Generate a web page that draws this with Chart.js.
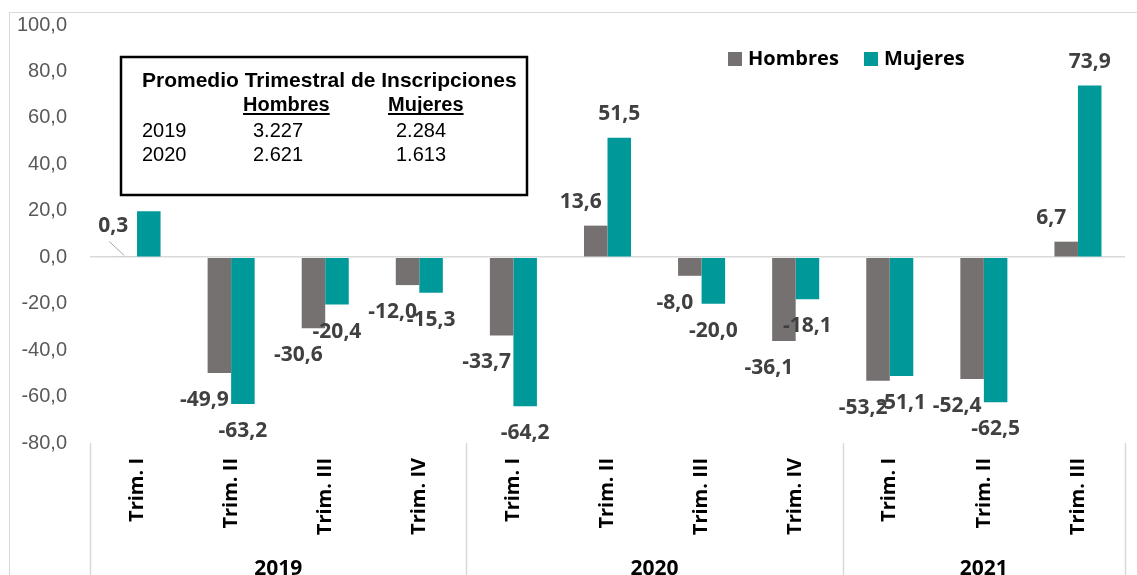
<!DOCTYPE html>
<html>
<head>
<meta charset="utf-8">
<script src="https://cdn.jsdelivr.net/npm/chart.js@4.4.0/dist/chart.umd.min.js"></script>
<style>
  html, body { margin: 0; padding: 0; background: #fff; }
  #wrap { width: 1137px; height: 575px; }
</style>
</head>
<body>
<div id="wrap"><canvas id="grafico" width="1137" height="575"></canvas></div>
<script>
// datos del gráfico
const trimestres = ['Trim. I', 'Trim. II', 'Trim. III', 'Trim. IV',
                    'Trim. I', 'Trim. II', 'Trim. III', 'Trim. IV',
                    'Trim. I', 'Trim. II', 'Trim. III'];
const anios = ['2019', '2020', '2021'];
const trimestresPorAnio = [4, 4, 3];
const hombres = [0.3, -49.9, -30.6, -12.0, -33.7, 13.6, -8.0, -36.1, -53.2, -52.4, 6.7];
const mujeres = [19.8, -63.2, -20.4, -15.3, -64.2, 51.5, -20.0, -18.1, -51.1, -62.5, 73.9];
const yMin = -80, yMax = 100, yPaso = 20;

// cuadro de promedios
const cuadroTitulo = 'Promedio Trimestral de Inscripciones';
const cuadroColumnas = ['Hombres', 'Mujeres'];
const cuadroFilas = [
  ['2019', '3.227', '2.284'],
  ['2020', '2.621', '1.613']
];

const GRIS = '#767171';
const TEAL = '#009999';
const fmt = v => v.toFixed(1).replace('.', ',');

// etiquetas de datos, leyenda, años y cuadro
const extras = {
  id: 'extras',
  afterDatasetsDraw(chart) {
    const ctx = chart.ctx;
    const area = chart.chartArea;
    const x = chart.scales.x;
    ctx.save();

    // borde exterior
    ctx.strokeStyle = '#d9d9d9';
    ctx.lineWidth = 1;
    ctx.strokeRect(9.5, 12.5, 1200, 700);

    // etiquetas de valores
    ctx.font = 'bold 21px "Open Sans"';
    ctx.fillStyle = '#404040';
    ctx.textAlign = 'center';
    ctx.textBaseline = 'middle';
    chart.data.datasets.forEach((ds, di) => {
      const meta = chart.getDatasetMeta(di);
      meta.data.forEach((bar, i) => {
        const v = ds.data[i];
        const dx = di === 0 ? -15 : 0;
        const dy = v >= 0 ? -24 : 27;
        let lx = bar.x + dx, ly = bar.y + dy;
        if (Math.abs(v) < 1) {
          lx = bar.x - 12; ly = bar.y - 31;
          ctx.strokeStyle = '#a6a6a6';
          ctx.lineWidth = 1;
          ctx.beginPath();
          ctx.moveTo(lx - 4, ly + 16);
          ctx.lineTo(bar.x - 1, bar.y - 1);
          ctx.stroke();
        }
        ctx.fillText(fmt(v), lx, ly);
      });
    });

    // separadores y años
    const ancho = x.getPixelForValue(1) - x.getPixelForValue(0);
    ctx.strokeStyle = '#d9d9d9';
    ctx.lineWidth = 1.5;
    let idx = 0;
    const bordes = [idx];
    trimestresPorAnio.forEach(n => { idx += n; bordes.push(idx); });
    bordes.forEach(b => {
      const px = Math.round(x.getPixelForValue(b) - ancho / 2) + 0.5;
      ctx.beginPath();
      ctx.moveTo(px, area.bottom);
      ctx.lineTo(px, chart.height);
      ctx.stroke();
    });
    ctx.font = 'bold 21px "Open Sans"';
    ctx.fillStyle = '#000';
    ctx.textBaseline = 'alphabetic';
    anios.forEach((a, k) => {
      const c = (x.getPixelForValue(bordes[k]) + x.getPixelForValue(bordes[k + 1] - 1)) / 2;
      ctx.fillText(a, c, 575);
    });

    // leyenda
    ctx.textAlign = 'left';
    ctx.textBaseline = 'middle';
    let lx = 728;
    chart.data.datasets.forEach(ds => {
      ctx.fillStyle = ds.backgroundColor;
      ctx.fillRect(lx, 52, 14, 14);
      ctx.fillStyle = '#000';
      ctx.font = 'bold 20px "Open Sans"';
      ctx.fillText(ds.label, lx + 20, 59);
      lx += 136;
    });

    // cuadro de promedios
    ctx.fillStyle = '#fff';
    ctx.fillRect(121, 57, 406, 138);
    ctx.strokeStyle = '#000';
    ctx.lineWidth = 2.5;
    ctx.strokeRect(121, 57, 406, 138);
    ctx.fillStyle = '#000';
    ctx.textBaseline = 'alphabetic';
    ctx.font = 'bold 21px "Liberation Sans", Arial';
    ctx.fillText(cuadroTitulo, 142, 87);
    const colX = [243, 388];
    ctx.font = 'bold 20px "Liberation Sans", Arial';
    cuadroColumnas.forEach((c, k) => {
      ctx.fillText(c, colX[k], 111);
      const w = ctx.measureText(c).width;
      ctx.fillRect(colX[k], 113, w, 2);
    });
    ctx.font = '20px "Liberation Sans", Arial';
    const filaX = [142, 253, 396];
    cuadroFilas.forEach((fila, r) => {
      fila.forEach((t, k) => ctx.fillText(t, filaX[k], 137 + r * 24));
    });
    ctx.restore();
  }
};

new Chart(document.getElementById('grafico'), {
  type: 'bar',
  data: {
    labels: trimestres,
    datasets: [
      { label: 'Hombres', data: hombres, backgroundColor: GRIS },
      { label: 'Mujeres', data: mujeres, backgroundColor: TEAL }
    ]
  },
  options: {
    responsive: false,
    animation: false,
    categoryPercentage: 0.5,
    barPercentage: 1.0,
    layout: { padding: { top: 25, right: 12, left: 0, bottom: 0 } },
    plugins: { legend: { display: false }, tooltip: { enabled: false } },
    scales: {
      x: {
        afterFit: s => { s.height = 132; s.paddingLeft = 0; s.paddingRight = 0; },
        grid: { display: false, drawTicks: false },
        border: { display: false },
        ticks: {
          minRotation: 90, maxRotation: 90, padding: 15,
          color: '#000', font: { family: 'Open Sans', weight: 'bold', size: 20 }
        }
      },
      y: {
        min: yMin, max: yMax,
        afterFit: s => { s.width = 90; s.paddingTop = 0; s.paddingBottom = 0; },
        grid: {
          drawTicks: false,
          color: c => c.tick.value === 0 ? '#d9d9d9' : 'rgba(0,0,0,0)',
          lineWidth: 1.5
        },
        border: { display: false },
        ticks: {
          stepSize: yPaso, padding: 23, color: '#595959',
          font: { family: 'Liberation Sans', size: 20 },
          callback: v => fmt(v)
        }
      }
    }
  },
  plugins: [extras]
});
</script>
</body>
</html>
